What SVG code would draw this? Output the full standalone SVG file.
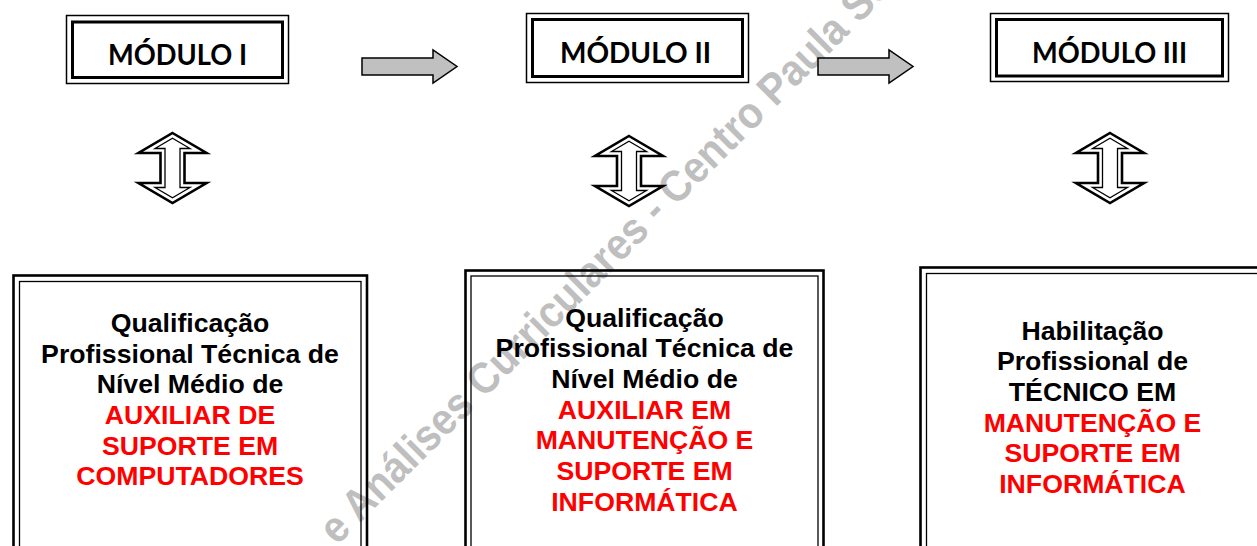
<svg xmlns="http://www.w3.org/2000/svg" width="1257" height="546" viewBox="0 0 1257 546">
<style>
.mod-o{fill:none;stroke:#000;stroke-width:1.5}
.mod-i{fill:none;stroke:#000;stroke-width:3}
.box-o{fill:none;stroke:#000;stroke-width:2.6}
.box-i{fill:none;stroke:#000;stroke-width:1.3}
.mt{font-family:Lato,"Open Sans","Liberation Sans",sans-serif;font-weight:bold;font-size:28px;fill:#000;text-anchor:middle}
.bt{font-family:"Liberation Sans",Arial,sans-serif;font-weight:bold;font-size:26.67px;text-anchor:middle}
.k{fill:#000}
.r{fill:#ff0000}
.wm{font-family:"Liberation Sans",Arial,sans-serif;font-weight:bold;font-size:44px;fill:#bfbfbf}
.garrow{fill:#c0c0c0;stroke:#000;stroke-width:1.5;stroke-linejoin:miter}
.ud-o{fill:#fff;stroke:#000;stroke-width:2.6;stroke-linejoin:miter}
.ud-i{fill:none;stroke:#000;stroke-width:1.3;stroke-linejoin:miter}
</style>
<defs>
<g id="updown">
<path class="ud-o" d="M0,-35 L34,-15 L12,-15 L12,15 L34,15 L0,35 L-34,15 L-12,15 L-12,-15 L-34,-15 Z"/>
<path class="ud-i" d="M0,-29.8 L17.5,-19.5 L7.5,-19.5 L7.5,19.5 L17.5,19.5 L0,29.8 L-17.5,19.5 L-7.5,19.5 L-7.5,-19.5 L-17.5,-19.5 Z"/>
</g>
</defs>
<rect width="1257" height="546" fill="#fff"/>
<g id="watermark">
<text class="wm" x="337" y="546" transform="rotate(-45 337 546)" textLength="789" lengthAdjust="spacingAndGlyphs">e Análises Curriculares - Centro Paula So</text>
</g>
<g id="modulo1">
<rect class="mod-o" x="66.5" y="15.5" width="222" height="68"/>
<rect class="mod-i" x="72.5" y="22" width="210" height="55.5"/>
<text class="mt" x="177.5" y="65" textLength="139" lengthAdjust="spacingAndGlyphs">MÓDULO I</text>
</g>
<g id="modulo2">
<rect class="mod-o" x="526.5" y="13.5" width="222" height="69"/>
<rect class="mod-i" x="532.5" y="19.5" width="210" height="57"/>
<text class="mt" x="635.5" y="63" textLength="151" lengthAdjust="spacingAndGlyphs">MÓDULO II</text>
</g>
<g id="modulo3">
<rect class="mod-o" x="990.5" y="13.5" width="238" height="68"/>
<rect class="mod-i" x="996.5" y="19.5" width="226" height="56.5"/>
<text class="mt" x="1109.5" y="63" textLength="155" lengthAdjust="spacingAndGlyphs">MÓDULO III</text>
</g>
<g id="qualificacao1">
<rect class="box-o" x="13.5" y="275.5" width="353.5" height="290"/>
<rect class="box-i" x="19.5" y="281.5" width="341.5" height="290"/>
<text class="bt" x="190" y="332"><tspan class="k" x="190">Qualificação</tspan><tspan class="k" x="190" dy="30.67">Profissional Técnica de</tspan><tspan class="k" x="190" dy="30.67">Nível Médio de</tspan><tspan class="r" x="190" dy="30.67">AUXILIAR DE</tspan><tspan class="r" x="190" dy="30.67">SUPORTE EM</tspan><tspan class="r" x="190" dy="30.67">COMPUTADORES</tspan></text>
</g>
<g id="qualificacao2">
<rect class="box-o" x="465.5" y="270.5" width="358" height="290"/>
<rect class="box-i" x="471" y="276" width="347" height="290"/>
<text class="bt" x="644.5" y="326.7"><tspan class="k" x="644.5">Qualificação</tspan><tspan class="k" x="644.5" dy="30.67">Profissional Técnica de</tspan><tspan class="k" x="644.5" dy="30.67">Nível Médio de</tspan><tspan class="r" x="644.5" dy="30.67">AUXILIAR EM</tspan><tspan class="r" x="644.5" dy="30.67">MANUTENÇÃO E</tspan><tspan class="r" x="644.5" dy="30.67">SUPORTE EM</tspan><tspan class="r" x="644.5" dy="30.67">INFORMÁTICA</tspan></text>
</g>
<g id="habilitacao3">
<rect class="box-o" x="920.5" y="267.5" width="346" height="295"/>
<rect class="box-i" x="926.5" y="273.5" width="334" height="295"/>
<text class="bt" x="1092.5" y="339.5"><tspan class="k" x="1092.5">Habilitação</tspan><tspan class="k" x="1092.5" dy="30.67">Profissional de</tspan><tspan class="k" x="1092.5" dy="30.67">TÉCNICO EM</tspan><tspan class="r" x="1092.5" dy="30.67">MANUTENÇÃO E</tspan><tspan class="r" x="1092.5" dy="30.67">SUPORTE EM</tspan><tspan class="r" x="1092.5" dy="30.67">INFORMÁTICA</tspan></text>
</g>
<g id="connectors">
<path class="garrow" d="M362,58 L433,58 L433,50 L457,66.5 L433,83 L433,75 L362,75 Z"/>
<path class="garrow" d="M818,58 L889,58 L889,50 L913,66.5 L889,83 L889,75 L818,75 Z"/>
<use href="#updown" transform="translate(172.5,168)"/>
<use href="#updown" transform="translate(629,171)"/>
<use href="#updown" transform="translate(1110,168)"/>
</g>
</svg>
